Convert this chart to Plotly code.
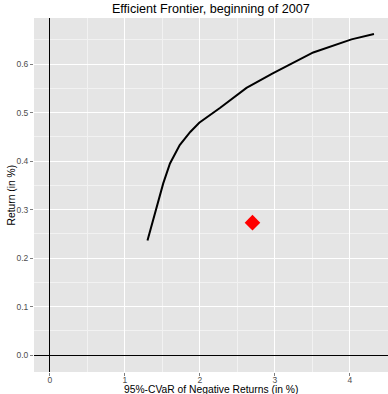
import plotly.graph_objects as go

# Efficient frontier (x: 95%-CVaR in %, y: return in %)
frontier_cvar = [1.30, 1.40, 1.51, 1.60, 1.73, 1.87, 1.99, 2.27, 2.62, 2.97, 3.51, 4.02, 4.32]
frontier_ret = [0.236, 0.292, 0.354, 0.395, 0.433, 0.460, 0.479, 0.510, 0.551, 0.581, 0.624, 0.651, 0.662]

# Current portfolio (red diamond)
point_cvar = [2.70]
point_ret = [0.273]

x_ticks = [0, 1, 2, 3, 4]
x_tick_labels = ["0", "1", "2", "3", "4"]
y_ticks = [0.0, 0.1, 0.2, 0.3, 0.4, 0.5, 0.6]
y_tick_labels = ["0.0", "0.1", "0.2", "0.3", "0.4", "0.5", "0.6"]

font_family = "Liberation Sans, Arial, sans-serif"

fig = go.Figure()
fig.add_trace(go.Scatter(x=frontier_cvar, y=frontier_ret, mode="lines",
                         line=dict(color="black", width=2), showlegend=False,
                         hoverinfo="skip"))
fig.add_trace(go.Scatter(x=point_cvar, y=point_ret, mode="markers",
                         marker=dict(symbol="diamond", color="#FF0000", size=12, line=dict(width=0)),
                         showlegend=False))

fig.update_layout(
    width=388, height=394,
    margin=dict(l=34, r=0, t=18, b=22),
    paper_bgcolor="white",
    plot_bgcolor="#E5E5E5",
    font=dict(family=font_family, size=8.5, color="#4D4D4D"),
    title=dict(text="Efficient Frontier, beginning of 2007", x=0.5435, xanchor="center",
               y=1, yanchor="top", yref="container", pad=dict(t=4),
               font=dict(size=12.6, color="black", family=font_family)),
    xaxis=dict(range=[-0.213, 4.507], tickvals=x_ticks, ticktext=x_tick_labels,
               showgrid=True, gridcolor="white", gridwidth=1.3,
               minor=dict(dtick=0.5, tick0=0.5, showgrid=True, gridcolor="#F2F2F2", gridwidth=0.8, ticks=""),
               zeroline=True, zerolinecolor="black", zerolinewidth=1.2,
               ticks="outside", ticklen=3, tickcolor="#7F7F7F", tickwidth=1,
               ticklabelstandoff=-3,
               showline=False, tickfont=dict(size=8.5, color="#4D4D4D")),
    yaxis=dict(range=[-0.035, 0.695], tickvals=y_ticks, ticktext=y_tick_labels,
               showgrid=True, gridcolor="white", gridwidth=1.3,
               minor=dict(dtick=0.1, tick0=0.05, showgrid=True, gridcolor="#F2F2F2", gridwidth=0.8, ticks=""),
               zeroline=True, zerolinecolor="black", zerolinewidth=1.2,
               ticks="outside", ticklen=3, tickcolor="#7F7F7F", tickwidth=1,
               showline=False, tickfont=dict(size=8.5, color="#4D4D4D")),
    annotations=[
        dict(text="95%-CVaR of Negative Returns (in %)", xref="paper", yref="paper",
             x=0.5, y=0, xanchor="center", yanchor="top", yshift=-10, showarrow=False,
             font=dict(size=10.3, color="black", family=font_family)),
        dict(text="Return (in %)", xref="paper", yref="paper", textangle=-90,
             x=0, y=0.5, xanchor="right", yanchor="middle", xshift=-16, showarrow=False,
             font=dict(size=10.3, color="black", family=font_family)),
    ],
)

fig.write_html("out.html", config={"displayModeBar": False},
               post_script="document.body.style.margin='0';document.body.style.padding='0';")
